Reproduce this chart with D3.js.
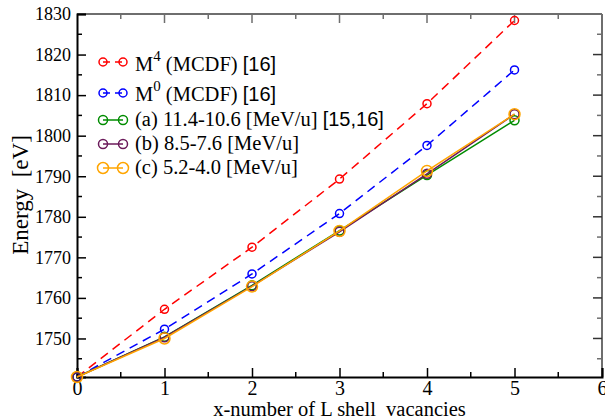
<!DOCTYPE html>
<html>
<head>
<meta charset="utf-8">
<script src="https://cdn.jsdelivr.net/npm/d3@7"></script>
<style>
  html, body { margin: 0; padding: 0; background: #fff; }
  svg { display: block; }
</style>
</head>
<body>
<svg id="chart" width="605" height="420"></svg>
<script>
// Number of L-shell vacancies
const vacancies = [0, 1, 2, 3, 4, 5];

// Energies in eV for each series
const m4Mcdf   = [1740.5, 1757.2, 1772.5, 1789.3, 1807.9, 1828.4];
const m0Mcdf   = [1740.5, 1752.3, 1765.9, 1780.8, 1797.6, 1816.2];
const setA     = [1740.5, 1750.4, 1763.1, 1776.6, 1790.3, 1803.8];
const setB     = [1740.5, 1750.3, 1762.9, 1776.3, 1790.6, 1805.3];
const setC     = [1740.5, 1750.0, 1762.8, 1776.5, 1791.3, 1805.3];

const xTicks = [0, 1, 2, 3, 4, 5, 6];
const yTicks = [1750, 1760, 1770, 1780, 1790, 1800, 1810, 1820, 1830];

const SERIF = '"Liberation Serif", "Times New Roman", serif';
const SANS = '"Liberation Sans", Arial, sans-serif';

const series = [
  { main: "M", sup: "4", rest: " (MCDF) ", ref: "[16]", values: m4Mcdf, color: "#ff0000", dashed: true,  r: 4 },
  { main: "M", sup: "0", rest: " (MCDF) ", ref: "[16]", values: m0Mcdf, color: "#0000ff", dashed: true,  r: 4 },
  { main: "(a) 11.4-10.6 [MeV/u] ", sup: null, rest: "", ref: "[15,16]", values: setA, color: "#008c00", dashed: false, r: 4.5 },
  { main: "(b) 8.5-7.6 [MeV/u]", sup: null, rest: "", ref: "", values: setB, color: "#6b1a5a", dashed: false, r: 4.5 },
  { main: "(c) 5.2-4.0 [MeV/u]", sup: null, rest: "", ref: "", values: setC, color: "#ffa500", dashed: false, r: 5.5 }
];

const svg = d3.select("#chart");
const pLeft = 77, pRight = 602, pTop = 14, pBottom = 377;

const x = d3.scaleLinear().domain([0, 6]).range([pLeft, pRight]);
const y = d3.scaleLinear().domain([1740.5, 1830]).range([pBottom, pTop]);

// Frame: dark left/bottom, grey top/right
const frame = svg.append("g");
frame.append("line").attr("x1", pLeft).attr("x2", pRight).attr("y1", pTop).attr("y2", pTop)
  .attr("stroke", "#6e6e6e").attr("stroke-width", 2);
frame.append("line").attr("x1", pRight).attr("x2", pRight).attr("y1", pTop).attr("y2", pBottom)
  .attr("stroke", "#6e6e6e").attr("stroke-width", 2);

// Bottom axis, ticks pointing inward
const xMinor = d3.range(0.5, 6, 1);
const xAxis = svg.append("g").attr("transform", `translate(0,${pBottom})`)
  .call(d3.axisBottom(x).tickValues(xTicks).tickSize(-9).tickPadding(4).tickFormat(d3.format("d")));
xAxis.select(".domain").attr("stroke", "#000").attr("stroke-width", 2);
xAxis.selectAll("text").style("font-family", SERIF).style("font-size", "20px").attr("fill", "#000");
xAxis.selectAll(".tick line").attr("stroke-width", 1.5);
xMinor.forEach(v => {
  svg.append("line").attr("x1", x(v)).attr("x2", x(v)).attr("y1", pBottom).attr("y2", pBottom - 5)
    .attr("stroke", "#000").attr("stroke-width", 1.5);
});

// Top ticks
xTicks.slice(1, -1).forEach(v => {
  svg.append("line").attr("x1", x(v)).attr("x2", x(v)).attr("y1", pTop).attr("y2", pTop + 9)
    .attr("stroke", "#6e6e6e").attr("stroke-width", 1.5);
});
xMinor.forEach(v => {
  svg.append("line").attr("x1", x(v)).attr("x2", x(v)).attr("y1", pTop).attr("y2", pTop + 5)
    .attr("stroke", "#6e6e6e").attr("stroke-width", 1.5);
});

// Left axis
const yAxis = svg.append("g").attr("transform", `translate(${pLeft},0)`)
  .call(d3.axisLeft(y).tickValues(yTicks).tickSize(-9).tickPadding(6).tickFormat(d3.format("d")));
yAxis.select(".domain").attr("stroke", "#000").attr("stroke-width", 2);
yAxis.selectAll("text").style("font-family", SERIF).style("font-size", "18px").attr("fill", "#000");
yAxis.selectAll(".tick line").attr("stroke-width", 1.5);
const yMinor = d3.range(1745, 1830, 10);
yMinor.forEach(v => {
  svg.append("line").attr("x1", pLeft).attr("x2", pLeft + 5).attr("y1", y(v)).attr("y2", y(v))
    .attr("stroke", "#000").attr("stroke-width", 1.5);
});

// Right ticks
yTicks.slice(0, -1).forEach(v => {
  svg.append("line").attr("x1", pRight).attr("x2", pRight - 9).attr("y1", y(v)).attr("y2", y(v))
    .attr("stroke", "#333").attr("stroke-width", 1.5);
});
yMinor.forEach(v => {
  svg.append("line").attr("x1", pRight).attr("x2", pRight - 5).attr("y1", y(v)).attr("y2", y(v))
    .attr("stroke", "#6e6e6e").attr("stroke-width", 1.5);
});

// Axis titles
svg.append("text").style("font-family", SERIF).style("font-size", "20.5px")
  .attr("x", (pLeft + pRight) / 2).attr("y", 415.5).attr("text-anchor", "middle")
  .text("x-number of L shell\u00a0 vacancies");
svg.append("text").style("font-family", SERIF).style("font-size", "23px")
  .attr("transform", "translate(28,195) rotate(-90)").attr("text-anchor", "middle")
  .text("Energy\u00a0 [eV]");

// Series lines and markers
const line = d3.line().x((d, i) => x(vacancies[i])).y(d => y(d));
series.forEach(s => {
  svg.append("path").datum(s.values)
    .attr("d", line).attr("fill", "none").attr("stroke", s.color).attr("stroke-width", 1.5)
    .attr("stroke-dasharray", s.dashed ? "9,6" : null);
  svg.append("g").selectAll("circle").data(s.values).join("circle")
    .attr("cx", (d, i) => x(vacancies[i])).attr("cy", d => y(d)).attr("r", s.r)
    .attr("fill", "none").attr("stroke", s.color).attr("stroke-width", 1.5);
});

// Legend: marker rows and text baselines
const legendMarkY = [62, 93, 120, 144, 168];
const legendTextY = [71, 101, 126, 150, 174];
series.forEach((s, i) => {
  const ly = legendMarkY[i];
  const g = svg.append("g");
  g.append("line").attr("x1", 103).attr("x2", 123).attr("y1", ly).attr("y2", ly)
    .attr("stroke", s.color).attr("stroke-width", 1.5)
    .attr("stroke-dasharray", s.dashed ? "7,5" : null);
  [103, 123].forEach(cx => {
    g.append("circle").attr("cx", cx).attr("cy", ly).attr("r", s.r)
      .attr("fill", "none").attr("stroke", s.color).attr("stroke-width", 1.5);
  });
  const t = g.append("text").style("font-family", SERIF).style("font-size", "20.5px")
    .attr("x", 135).attr("y", legendTextY[i]);
  t.append("tspan").text(s.main);
  if (s.sup) {
    t.append("tspan").style("font-size", "15px").attr("dy", -10).text(s.sup);
    t.append("tspan").attr("dy", 10).text(s.rest);
  }
  if (s.ref) {
    t.append("tspan").style("font-family", SANS).style("font-size", "20px").text(s.ref);
  }
});
</script>
</body>
</html>
